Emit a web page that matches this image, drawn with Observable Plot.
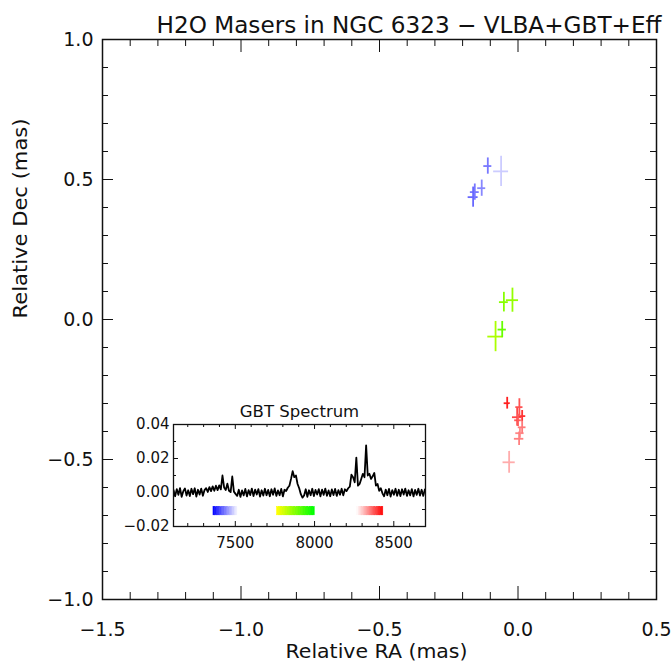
<!DOCTYPE html>
<html><head><meta charset="utf-8">
<script src="https://cdn.jsdelivr.net/npm/d3@7"></script>
<script src="https://cdn.jsdelivr.net/npm/@observablehq/plot@0.6"></script>
<style>
body{margin:0;background:#fff;}
#wrap{position:relative;width:672px;height:662px;overflow:hidden;background:#fff;}
#inset{position:absolute;left:113px;top:394px;}
</style></head><body><div id="wrap"></div>
<script>
// ---------- Maser spots (VLBA) ----------
const maserRA     = [-0.109, -0.061, -0.131, -0.156, -0.162, -0.051, -0.020, -0.057, -0.081, -0.039, 0.005, -0.003, 0.015, 0.000, 0.015, 0.007, 0.004, -0.032];
const maserDec    = [0.548, 0.529, 0.469, 0.455, 0.437, 0.062, 0.069, -0.036, -0.061, -0.299, -0.313, -0.349, -0.345, -0.360, -0.385, -0.406, -0.426, -0.510];
const maserRAErr  = [0.0145, 0.027, 0.0145, 0.016, 0.018, 0.016, 0.022, 0.015, 0.028, 0.011, 0.013, 0.017, 0.013, 0.012, 0.014, 0.015, 0.017, 0.022];
const maserDecErr = [0.029, 0.054, 0.029, 0.029, 0.036, 0.035, 0.043, 0.029, 0.054, 0.021, 0.030, 0.032, 0.020, 0.022, 0.022, 0.018, 0.024, 0.039];
const maserVel    = [7438, 7490, 7447, 7438, 7427, 7876, 7865, 7906, 7844, 8413, 8380, 8389, 8401, 8376, 8356, 8347, 8352, 8323];

// ---------- GBT spectrum (flux density in mJy, channels of 10.3 km/s from 7110 km/s) ----------
const specStart = 7110, specChan = 10.3;
const spectrumMJy = [
  1.5, -2.2, 2.0, -1.4, 2.6, -2.5, 0.8, 2.4, -1.8, 1.3, -2.1, 2.2, -1.0, 2.5, -2.4, 1.6, -1.2, 2.3, -1.9, 1.4,
  2.6, 0.3, 3.2, 0.8, 3.6, 1.0, 4.0, 1.4, 4.2, 1.8,
  10.0, 3.0, 1.5, 5.2, 1.0, 0.2, 9.4, 0.5, -0.8,
  -2.0, 1.6, -2.6, 1.2, -1.7, 2.1, -2.3, 1.4, -1.5, 2.3, -2.1, 1.7, -1.2, 2.0, -2.4, 1.3, -1.8, 2.2, -1.6, 1.5, -2.2, 1.9, -1.3, 2.4, -2.0, 1.2, -1.6, 2.1, -2.3, 1.6, 0.9, 2.8,
  4.0, 8.0, 12.5, 9.0, 10.0, 5.0, 2.5, -1.0, -3.0,
  -1.8, 1.9, -2.5, 1.3, -1.6, 2.2, -2.1, 1.5, -1.2, 2.0, -2.3, 1.7, -1.4, 2.3, -1.9, 1.2, -2.2, 1.8, -1.5, 2.1, -2.0, 1.4, -1.3, 2.2, -1.7, 1.9, 0.8, 2.5,
  3.5, 10.5, 9.0, 6.0, 20.5, 4.0, 5.0, 8.0, 11.0, 9.0, 27.7, 10.0, 11.0, 8.0, 9.5, 11.5, 4.0, 5.0, 1.0, 2.5, -0.5,
  -2.2, 1.7, -1.6, 2.1, -2.4, 1.4, -1.3, 2.2, -1.9, 1.6, -2.1, 1.9, -1.2, 2.3, -2.0, 1.3, -1.7, 2.0, -2.3, 1.5, -1.4, 2.2, -1.8, 1.6, -2.0, 1.8, 0.6
];

// ---------- velocity colour bands ----------
const bandRanges = [[7363, 7522], [7769, 7997], [8269, 8434]];
const bandStops  = [7363, 7522, 7769, 7997, 8269, 8434];
const bandColors = ["#0000ff", "#ffffff", "#ffff00", "#00ff00", "#ffffff", "#ff0000"];
const barLow = -0.0134, barHigh = -0.0086;

// ---------- ticks ----------
const xMajorTicks = [-1.5, -1.0, -0.5, 0.0, 0.5];
const xMinorTicks = [-1.4, -1.3, -1.2, -1.1, -0.9, -0.8, -0.7, -0.6, -0.4, -0.3, -0.2, -0.1, 0.1, 0.2, 0.3, 0.4];
const yMajorTicks = [-1.0, -0.5, 0.0, 0.5, 1.0];
const yMinorTicks = [-0.9, -0.8, -0.7, -0.6, -0.4, -0.3, -0.2, -0.1, 0.1, 0.2, 0.3, 0.4, 0.6, 0.7, 0.8, 0.9];
const insetXMajor = [7500, 8000, 8500];
const insetXMinor = [7200, 7300, 7400, 7600, 7700, 7800, 7900, 8100, 8200, 8300, 8400, 8600];
const insetYMajor = [-0.02, 0.00, 0.02, 0.04];
const insetYMinor = [-0.01, 0.01, 0.03];

const titleText = "H2O Masers in NGC 6323 \u2212 VLBA+GBT+Eff";
const xLabel = "Relative RA (mas)";
const yLabel = "Relative Dec (mas)";
const insetTitle = "GBT Spectrum";

// ---------- tables ----------
const masers = maserRA.map((ra, i) => ({ra, dec: maserDec[i], dra: maserRAErr[i], ddec: maserDecErr[i], vel: maserVel[i]}));
const spectrum = spectrumMJy.map((s, i) => ({v: specStart + specChan * i, s: s / 1000}));
const barCells = spectrum.filter(d => bandRanges.some(([lo, hi]) => d.v >= lo && d.v <= hi));

const font = "'DejaVu Sans', sans-serif";
const ink = "#111";
const fmt1 = d3.format(".1f");
const fmt2 = d3.format(".2f");
const colorScale = {type: "linear", domain: bandStops, range: bandColors, interpolate: "rgb"};

const W = 672, H = 662, mL = 102, mR = 16, mT = 39, mB = 63;
const PW = W - mL - mR, PH = H - mT - mB;

const main = Plot.plot({
  width: W, height: H,
  marginLeft: mL, marginRight: mR, marginTop: mT, marginBottom: mB,
  style: {fontFamily: font, fontSize: "19px", color: ink, background: "white", overflow: "visible"},
  x: {domain: [-1.5, 0.5]},
  y: {domain: [-1, 1]},
  color: colorScale,
  marks: [
    // inward ticks on all four sides
    Plot.ruleX(xMinorTicks, {insetTop: PH - 7, stroke: ink, strokeWidth: 1}),
    Plot.ruleX(xMinorTicks, {insetBottom: PH - 7, stroke: ink, strokeWidth: 1}),
    Plot.ruleX(xMajorTicks, {insetTop: PH - 13, stroke: ink, strokeWidth: 1}),
    Plot.ruleX(xMajorTicks, {insetBottom: PH - 13, stroke: ink, strokeWidth: 1}),
    Plot.ruleY(yMinorTicks, {insetRight: PW - 6, stroke: ink, strokeWidth: 1}),
    Plot.ruleY(yMinorTicks, {insetLeft: PW - 6, stroke: ink, strokeWidth: 1}),
    Plot.ruleY(yMajorTicks, {insetRight: PW - 11, stroke: ink, strokeWidth: 1}),
    Plot.ruleY(yMajorTicks, {insetLeft: PW - 11, stroke: ink, strokeWidth: 1}),
    Plot.frame({stroke: ink, strokeWidth: 1.5}),
    // error-bar crosses
    Plot.ruleY(masers, {y: "dec", x1: d => d.ra - d.dra, x2: d => d.ra + d.dra, stroke: "vel", strokeWidth: 1.8}),
    Plot.ruleX(masers, {x: "ra", y1: d => d.dec - d.ddec, y2: d => d.dec + d.ddec, stroke: "vel", strokeWidth: 1.8}),
    // tick labels
    Plot.axisX(xMajorTicks, {tickSize: 0, tickPadding: 23, tickFormat: fmt1, fontSize: 19, label: null}),
    Plot.axisY(yMajorTicks, {tickSize: 0, tickPadding: 9, tickFormat: fmt1, fontSize: 19, label: null}),
    // title and axis labels
    Plot.text([titleText], {text: d => d, frameAnchor: "top-left", lineAnchor: "middle", textAnchor: "start", dx: 54, dy: -13.4, fontSize: 23, fill: ink}),
    Plot.text([xLabel], {text: d => d, frameAnchor: "bottom", lineAnchor: "middle", dy: 52, dx: -3, fontSize: 20, fill: ink}),
    Plot.text([yLabel], {text: d => d, frameAnchor: "left", lineAnchor: "middle", rotate: -90, dx: -82, dy: -1, fontSize: 20, fill: ink})
  ]
});

const IW = 322, IH = 160, imL = 60, imR = 10, imT = 30, imB = 28;
const IPW = IW - imL - imR, IPH = IH - imT - imB;

const inset = Plot.plot({
  width: IW, height: IH,
  marginLeft: imL, marginRight: imR, marginTop: imT, marginBottom: imB,
  style: {fontFamily: font, fontSize: "15px", color: ink, background: "transparent", overflow: "visible"},
  x: {domain: [7110, 8700]},
  y: {domain: [-0.02, 0.04]},
  color: colorScale,
  marks: [
    Plot.frame({fill: "white", stroke: "none"}),
    Plot.rect(barCells, {x1: d => d.v - specChan / 2, x2: d => d.v + specChan / 2, y1: barLow, y2: barHigh, fill: "v", stroke: "v", strokeWidth: 0.6}),
    Plot.line(spectrum, {x: "v", y: "s", stroke: "#000", strokeWidth: 1.8, clip: true}),
    Plot.ruleX(insetXMinor, {insetTop: IPH - 3, stroke: ink}),
    Plot.ruleX(insetXMinor, {insetBottom: IPH - 3, stroke: ink}),
    Plot.ruleX(insetXMajor, {insetTop: IPH - 5, stroke: ink}),
    Plot.ruleX(insetXMajor, {insetBottom: IPH - 5, stroke: ink}),
    Plot.ruleY(insetYMinor, {insetRight: IPW - 3, stroke: ink}),
    Plot.ruleY(insetYMinor, {insetLeft: IPW - 3, stroke: ink}),
    Plot.ruleY(insetYMajor, {insetRight: IPW - 5, stroke: ink}),
    Plot.ruleY(insetYMajor, {insetLeft: IPW - 5, stroke: ink}),
    Plot.frame({stroke: ink, strokeWidth: 1.3}),
    Plot.axisX(insetXMajor, {tickSize: 0, tickPadding: 11, tickFormat: d3.format("d"), fontSize: 15, label: null}),
    Plot.axisY(insetYMajor, {tickSize: 0, tickPadding: 4, tickFormat: fmt2, fontSize: 15, label: null}),
    Plot.text([insetTitle], {text: d => d, frameAnchor: "top", lineAnchor: "middle", dy: -12.3, fontSize: 16.5, fill: ink})
  ]
});

function fitText(svg, lengths) {
  d3.select(svg).selectAll("text").each(function() {
    const t = this.textContent;
    if (lengths[t]) {
      this.setAttribute("textLength", lengths[t]);
      this.setAttribute("lengthAdjust", "spacingAndGlyphs");
    }
  });
}
fitText(main, {[titleText]: 505, [xLabel]: 182, [yLabel]: 200});

const wrap = document.getElementById("wrap");
wrap.appendChild(main);
const holder = document.createElement("div");
holder.id = "inset";
holder.appendChild(inset);
wrap.appendChild(holder);
</script>
</body></html>
